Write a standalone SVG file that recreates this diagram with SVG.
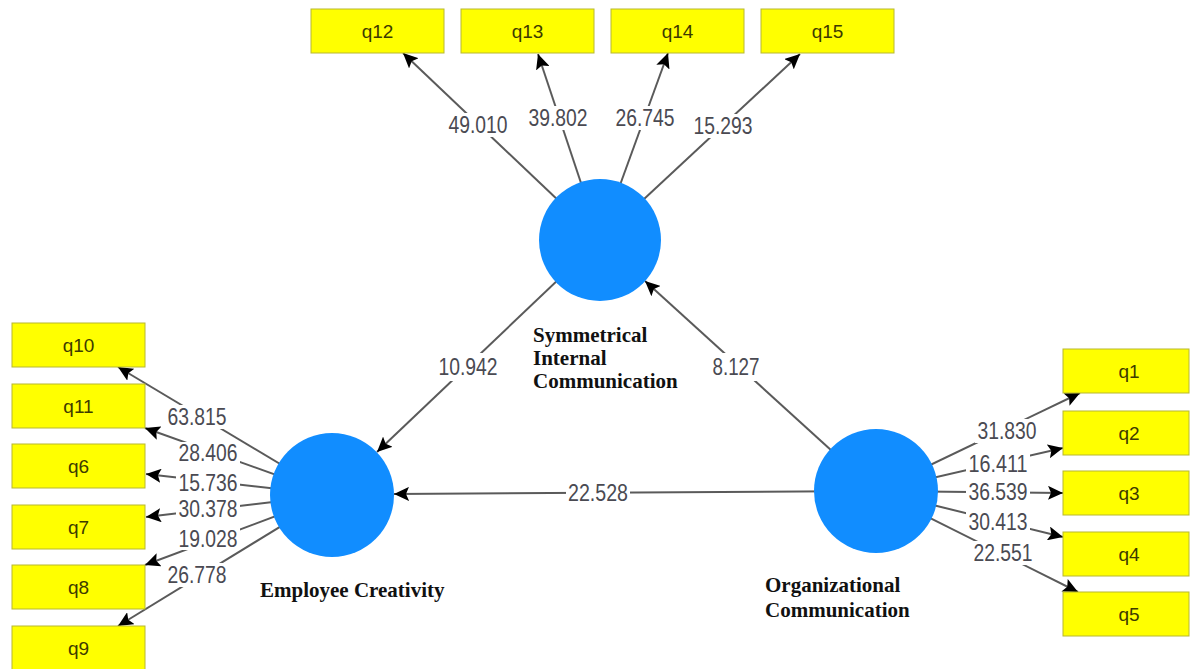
<svg xmlns="http://www.w3.org/2000/svg" width="1191" height="669" viewBox="0 0 1191 669">
<style>
.ln{stroke:#5a5a5a;stroke-width:2;fill:none;marker-end:url(#ah)}
.lb{fill:#ffffff}
.num{font-family:"Liberation Sans",Arial,sans-serif;font-size:23px;fill:#4a4a52;text-anchor:middle}
.box{fill:#ffff00;stroke:#b8b830;stroke-width:1}
.qt{font-family:"Liberation Sans",Arial,sans-serif;font-size:19px;fill:#3d3a00;text-anchor:middle}
.lv{fill:#118dff}
.name{font-family:"Liberation Serif","Times New Roman",serif;font-size:21px;font-weight:bold;fill:#111}
</style>
<defs>
<marker id="ah" markerUnits="userSpaceOnUse" markerWidth="16" markerHeight="14" refX="15" refY="7" orient="auto">
<path d="M0,0 L15,7 L0,14 L3,7 z" fill="#000"/>
</marker>
</defs>
<g id="connectors">
<g><line class="ln" x1="600" y1="240" x2="403" y2="53"/><rect class="lb" x="446" y="113" width="64" height="24"/><text class="num" x="478" y="133" textLength="59" lengthAdjust="spacingAndGlyphs">49.010</text></g>
<g><line class="ln" x1="600" y1="240" x2="538" y2="54"/><rect class="lb" x="526" y="106" width="64" height="24"/><text class="num" x="558" y="126" textLength="59" lengthAdjust="spacingAndGlyphs">39.802</text></g>
<g><line class="ln" x1="600" y1="240" x2="668" y2="53"/><rect class="lb" x="613" y="106" width="64" height="24"/><text class="num" x="645" y="126" textLength="59" lengthAdjust="spacingAndGlyphs">26.745</text></g>
<g><line class="ln" x1="600" y1="240" x2="800" y2="54"/><rect class="lb" x="691" y="114" width="64" height="24"/><text class="num" x="723" y="134" textLength="59" lengthAdjust="spacingAndGlyphs">15.293</text></g>
<g><line class="ln" x1="332" y1="495" x2="118" y2="367"/><rect class="lb" x="165" y="405" width="64" height="24"/><text class="num" x="197" y="425" textLength="59" lengthAdjust="spacingAndGlyphs">63.815</text></g>
<g><line class="ln" x1="332" y1="495" x2="145" y2="428"/><rect class="lb" x="176" y="442" width="64" height="22"/><text class="num" x="208" y="461" textLength="59" lengthAdjust="spacingAndGlyphs">28.406</text></g>
<g><line class="ln" x1="332" y1="495" x2="146" y2="474"/><rect class="lb" x="176" y="473" width="64" height="20"/><text class="num" x="208" y="491" textLength="59" lengthAdjust="spacingAndGlyphs">15.736</text></g>
<g><line class="ln" x1="332" y1="495" x2="146" y2="517"/><rect class="lb" x="176" y="499" width="64" height="20"/><text class="num" x="208" y="517" textLength="59" lengthAdjust="spacingAndGlyphs">30.378</text></g>
<g><line class="ln" x1="332" y1="495" x2="145" y2="565"/><rect class="lb" x="176" y="528" width="64" height="22"/><text class="num" x="208" y="547" textLength="59" lengthAdjust="spacingAndGlyphs">19.028</text></g>
<g><line class="ln" x1="332" y1="495" x2="118" y2="626"/><rect class="lb" x="165" y="563" width="64" height="24"/><text class="num" x="197" y="583" textLength="59" lengthAdjust="spacingAndGlyphs">26.778</text></g>
<g><line class="ln" x1="876" y1="491" x2="1080" y2="393"/><rect class="lb" x="975" y="419" width="64" height="24"/><text class="num" x="1007" y="439" textLength="59" lengthAdjust="spacingAndGlyphs">31.830</text></g>
<g><line class="ln" x1="876" y1="491" x2="1063" y2="448"/><rect class="lb" x="966" y="453" width="64" height="22"/><text class="num" x="998" y="472" textLength="59" lengthAdjust="spacingAndGlyphs">16.411</text></g>
<g><line class="ln" x1="876" y1="491" x2="1063" y2="493"/><rect class="lb" x="966" y="482" width="64" height="20"/><text class="num" x="998" y="500" textLength="59" lengthAdjust="spacingAndGlyphs">36.539</text></g>
<g><line class="ln" x1="876" y1="491" x2="1063" y2="537"/><rect class="lb" x="966" y="511" width="64" height="22"/><text class="num" x="998" y="530" textLength="59" lengthAdjust="spacingAndGlyphs">30.413</text></g>
<g><line class="ln" x1="876" y1="491" x2="1078" y2="592"/><rect class="lb" x="971" y="541" width="64" height="24"/><text class="num" x="1003" y="561" textLength="59" lengthAdjust="spacingAndGlyphs">22.551</text></g>
<g><line class="ln" x1="600" y1="240" x2="377" y2="452"/><rect class="lb" x="436" y="353" width="64" height="28"/><text class="num" x="468" y="375" textLength="59" lengthAdjust="spacingAndGlyphs">10.942</text></g>
<g><line class="ln" x1="876" y1="491" x2="645" y2="281"/><rect class="lb" x="710" y="353" width="52" height="28"/><text class="num" x="736" y="375" textLength="47" lengthAdjust="spacingAndGlyphs">8.127</text></g>
<g><line class="ln" x1="876" y1="491" x2="394" y2="494"/><rect class="lb" x="566" y="482" width="64" height="22"/><text class="num" x="598" y="501" textLength="60" lengthAdjust="spacingAndGlyphs">22.528</text></g>
</g>
<g id="SIC"><circle class="lv" cx="600" cy="240" r="61"/><text class="name" x="533" y="342">Symmetrical</text><text class="name" x="533" y="365">Internal</text><text class="name" x="533" y="388">Communication</text></g>
<g id="EC"><circle class="lv" cx="332" cy="495" r="62"/><text class="name" x="260" y="597">Employee Creativity</text></g>
<g id="OC"><circle class="lv" cx="876" cy="491" r="62"/><text class="name" x="765" y="592">Organizational</text><text class="name" x="765" y="617">Communication</text></g>
<g id="q12"><rect class="box" x="311" y="9" width="133" height="44"/><text class="qt" x="377.5" y="38">q12</text></g>
<g id="q13"><rect class="box" x="461" y="9" width="133" height="44"/><text class="qt" x="527.5" y="38">q13</text></g>
<g id="q14"><rect class="box" x="611" y="9" width="133" height="44"/><text class="qt" x="677.5" y="38">q14</text></g>
<g id="q15"><rect class="box" x="761" y="9" width="133" height="44"/><text class="qt" x="827.5" y="38">q15</text></g>
<g id="q10"><rect class="box" x="12" y="323" width="133" height="44"/><text class="qt" x="78.5" y="352">q10</text></g>
<g id="q11"><rect class="box" x="12" y="384" width="133" height="44"/><text class="qt" x="78.5" y="413">q11</text></g>
<g id="q6"><rect class="box" x="12" y="444" width="133" height="44"/><text class="qt" x="78.5" y="473">q6</text></g>
<g id="q7"><rect class="box" x="12" y="505" width="133" height="44"/><text class="qt" x="78.5" y="534">q7</text></g>
<g id="q8"><rect class="box" x="12" y="565" width="133" height="44"/><text class="qt" x="78.5" y="594">q8</text></g>
<g id="q9"><rect class="box" x="12" y="626" width="133" height="44"/><text class="qt" x="78.5" y="655">q9</text></g>
<g id="q1"><rect class="box" x="1063" y="349" width="126" height="44"/><text class="qt" x="1129" y="378">q1</text></g>
<g id="q2"><rect class="box" x="1063" y="411" width="126" height="44"/><text class="qt" x="1129" y="440">q2</text></g>
<g id="q3"><rect class="box" x="1063" y="471" width="126" height="44"/><text class="qt" x="1129" y="500">q3</text></g>
<g id="q4"><rect class="box" x="1063" y="532" width="126" height="44"/><text class="qt" x="1129" y="561">q4</text></g>
<g id="q5"><rect class="box" x="1063" y="592" width="126" height="44"/><text class="qt" x="1129" y="621">q5</text></g>
</svg>
